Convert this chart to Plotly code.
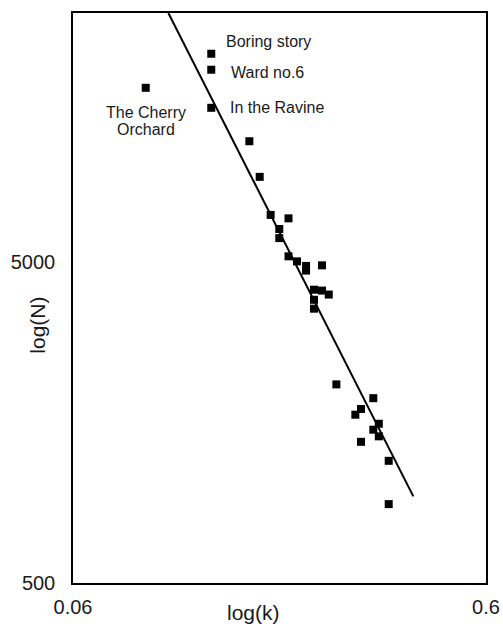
import numpy as np
import plotly.graph_objects as go

# Data (k, N), log-log
k_vals = [0.1297, 0.1297, 0.0900, 0.1297, 0.1604, 0.1699,
          0.1806, 0.1995, 0.1895, 0.1895, 0.1995, 0.2092,
          0.2200, 0.2200, 0.2405, 0.2300, 0.2405, 0.2497,
          0.2300, 0.2300, 0.2605, 0.3201, 0.2989, 0.2896,
          0.3301, 0.3201, 0.3301, 0.2989, 0.3488, 0.3488]
N_vals = [22180, 19780, 17380, 15060, 11850, 9180,
          6990, 6820, 6320, 5920, 5195, 5010,
          4850, 4690, 4870, 4090, 4065, 3950,
          3805, 3570, 2075, 1880, 1740, 1670,
          1565, 1500, 1430, 1375, 1200, 880]

# Regression line endpoints
fit_k = [0.1021, 0.4001]
fit_N = [29700, 930]

labels = ["Boring story", "Ward no.6", "In the Ravine", "The Cherry", "Orchard"]
label_k = [0.1297, 0.1297, 0.1297, 0.0900, 0.0900]
label_N = [22180, 19780, 15060, 17380, 17380]

x_ticks = [0.06, 0.6]
x_ticktext = ["0.06", "0.6"]
y_ticks = [500, 5000]
y_ticktext = ["500", "5000"]
x_title = "log(k)"
y_title = "log(N)"

FONT = "Liberation Sans, Arial, sans-serif"
TXT = "#1a1a1a"

fig = go.Figure()
fig.add_trace(go.Scatter(x=fit_k, y=fit_N, mode="lines",
                         line=dict(color="black", width=2), showlegend=False))
fig.add_trace(go.Scatter(x=k_vals, y=N_vals, mode="markers",
                         marker=dict(symbol="square", size=8, color="black"),
                         showlegend=False))

shifts = [(13, 12.5, "left"), (18, -3, "left"), (17, 0, "left"),
          (0, -24.5, "center"), (0, -41.5, "center")]
for t, xk, yn, (xs, ys, xa) in zip(labels, label_k, label_N, shifts):
    fig.add_annotation(x=np.log10(xk), y=np.log10(yn), text=t, showarrow=False,
                       xanchor=xa, yanchor="middle", xshift=xs, yshift=ys,
                       font=dict(family=FONT, size=16, color=TXT))

# axis titles
fig.add_annotation(xref="paper", yref="paper", x=0.4375, y=-0.0526, text=x_title,
                   showarrow=False, xanchor="center", yanchor="middle",
                   font=dict(family=FONT, size=21, color=TXT))
fig.add_annotation(xref="paper", yref="paper", x=-0.0879, y=0.4526, text=y_title,
                   showarrow=False, xanchor="center", yanchor="middle", textangle=-90,
                   font=dict(family=FONT, size=21, color=TXT))

fig.update_xaxes(type="log", range=[np.log10(0.06), np.log10(0.6)],
                 tickvals=x_ticks, ticktext=x_ticktext,
                 ticks="outside", ticklen=5, tickcolor="rgba(0,0,0,0)",
                 showgrid=False, zeroline=False,
                 showline=True, mirror=True, linecolor="black", linewidth=1.5,
                 tickfont=dict(family=FONT, size=20, color=TXT))
fig.update_yaxes(type="log", range=[np.log10(500), np.log10(500) + 569.4 / 321],
                 tickvals=y_ticks, ticktext=y_ticktext,
                 ticks="outside", ticklen=12, tickcolor="rgba(0,0,0,0)",
                 showgrid=False, zeroline=False,
                 showline=True, mirror=True, linecolor="black", linewidth=1.5,
                 tickfont=dict(family=FONT, size=20, color=TXT))

fig.update_layout(width=503, height=626,
                  margin=dict(l=73, r=17, t=13, b=43, autoexpand=False),
                  paper_bgcolor="white", plot_bgcolor="white")

# remove the default 8px page margin so the figure fills the window exactly
fig.write_html("out.html",
               config={"displayModeBar": False},
               post_script="document.body.style.margin='0';document.body.style.overflow='hidden';")
